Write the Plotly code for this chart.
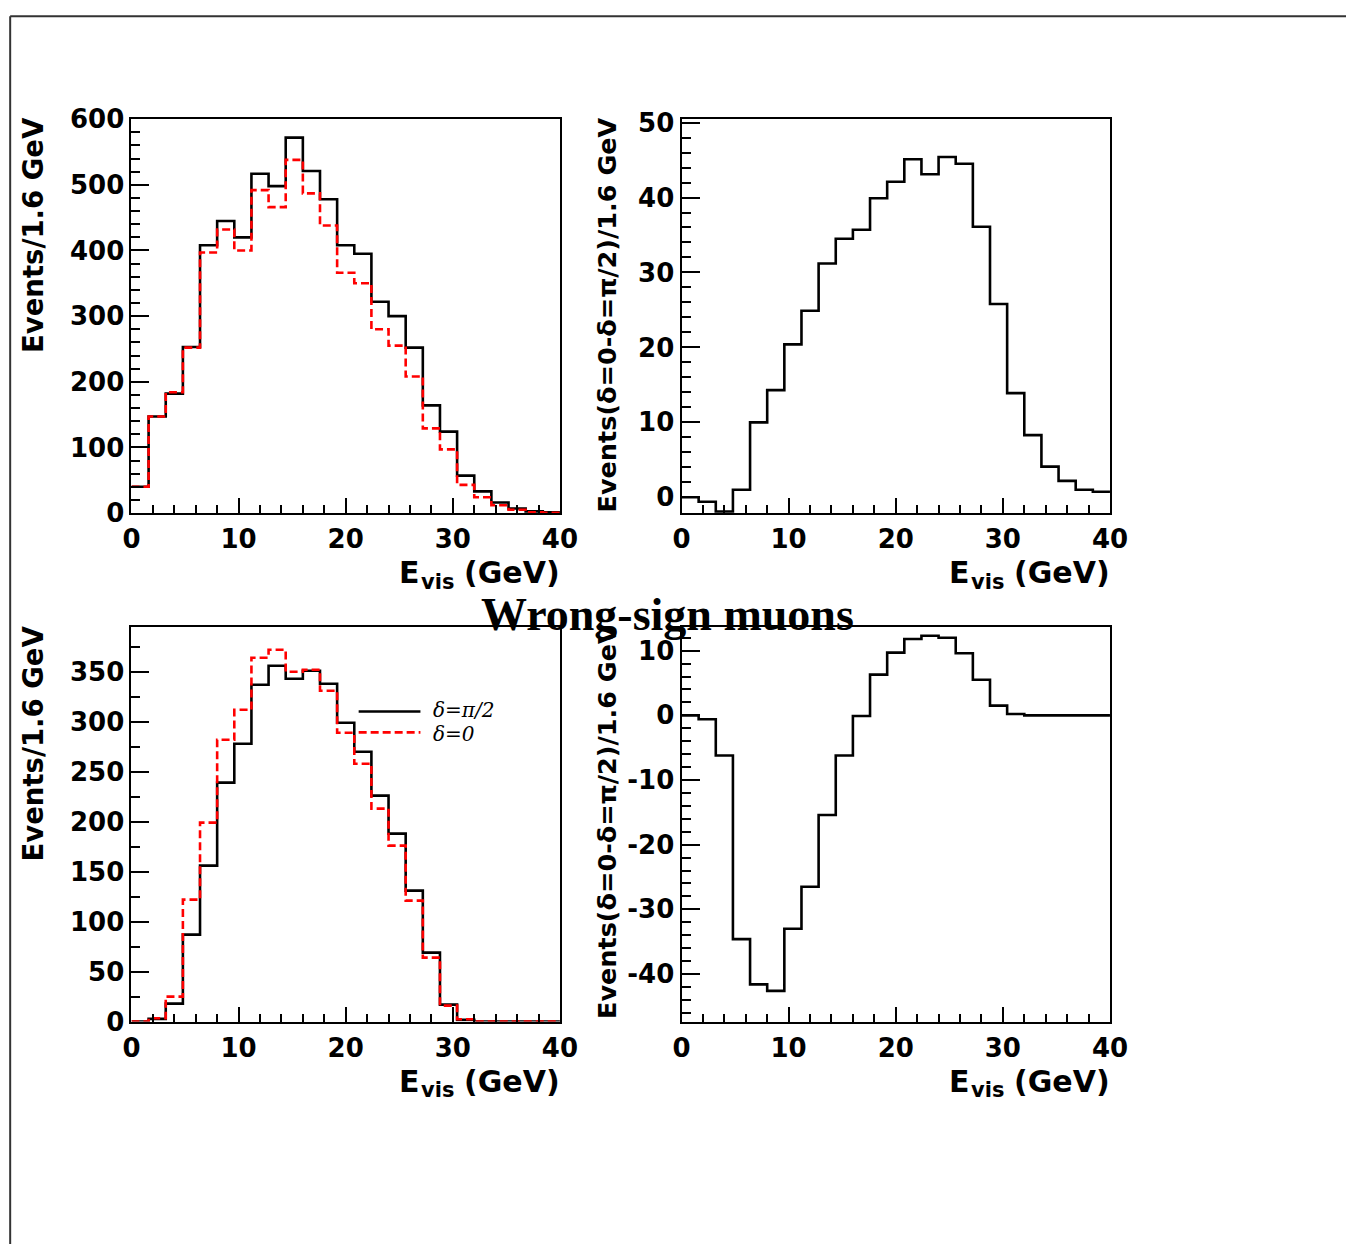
import numpy as np
import plotly.graph_objects as go

# ---------------- data ----------------
BIN_WIDTH = 1.6
N_BINS = 25
x_edges = [round(i * BIN_WIDTH, 3) for i in range(N_BINS + 1)]

# top-left: right-sign (events / 1.6 GeV)
tl_delta_pi2 = [40, 147, 182, 253, 408, 445, 420, 517, 498, 572, 521, 478, 408,
                395, 322, 300, 252, 164, 124, 57, 33, 16, 7, 2.5, 1]
tl_delta_0 = [40, 147, 184, 252, 397, 432, 400, 492, 466, 538, 487, 438, 366,
              350, 280, 255, 208, 129, 97, 43, 24, 12, 5, 1, 0.5]

# top-right: difference
tr_diff = [0.0, -0.6, -1.9, 1.0, 10.0, 14.3, 20.4, 24.9, 31.2, 34.5, 35.7, 39.9,
           42.1, 45.1, 43.1, 45.4, 44.5, 36.1, 25.8, 13.9, 8.3, 4.1, 2.2, 1.0, 0.75]

# bottom-left: wrong-sign muons
bl_delta_pi2 = [0, 2.7, 18, 87, 156, 239, 278, 337, 356, 343, 351, 338, 299,
                270, 226, 188, 131, 69, 17, 1.7, 0, 0, 0, 0, 0]
bl_delta_0 = [0, 3.3, 25, 122, 199, 282, 312, 364, 372, 350, 352, 331, 289,
              258, 213, 176, 121, 64, 16, 2.3, 0, 0, 0, 0, 0]

# bottom-right: difference
br_diff = [0.0, -0.6, -6.2, -34.6, -41.6, -42.6, -33.0, -26.5, -15.4, -6.2, -0.1,
           6.3, 9.7, 11.8, 12.3, 12.0, 9.6, 5.5, 1.5, 0.2, 0, 0, 0, 0, 0]
br_tick_vals = [-40, -30, -20, -10, 0, 10]
br_tick_text = ["-40", "-30", "-20", "-10", "0", "10"]
tr_tick_vals = [0, 10, 20, 30, 40, 50]
tr_tick_text = ["0", "10", "20", "30", "40", "50"]

legend_names = ["δ=π/2", "δ=0"]
x_title_parts = ["E", "vis", "(GeV)"]
y_title_events = "Events/1.6 GeV"
y_title_diff = "Events(δ=0-δ=π/2)/1.6 GeV"
main_title = "Wrong-sign muons"

# ---------------- layout helpers ----------------
W, H = 1364, 1259
# calibration of the photographed page (target pixel -> figure pixel)
SX, OX = 0.9837, 7.1
SY, OY = 0.979, 12.5


def px(x):
    return ((x - OX) / SX) / W


def py(y):
    return 1 - ((y - OY) / SY) / H


TICK_FONT = dict(family="DejaVu Sans", size=26, color="black", weight="bold")
XTITLE_FONT = dict(family="DejaVu Sans", size=30, color="black", weight="bold")
XSUB_FONT = dict(family="DejaVu Sans", size=21, color="black", weight="bold")

# panel frames in target pixels: (left, right, top, bottom)
panels = {
    "tl": (130, 560, 117, 512),
    "tr": (682, 1112, 117, 512),
    "bl": (130, 560, 626, 1022),
    "br": (682, 1112, 626, 1022),
}
ytitle_pos = {"tl": (31, 113, 27.5), "tr": (607, 113, 25.5),
              "bl": (31, 623, 27.5), "br": (607, 621, 25.5)}


def step(vals):
    return list(vals) + [vals[-1]]


def xaxis_cfg(p, anchor):
    l, r, t, b = panels[p]
    return dict(domain=[px(l), px(r)], anchor=anchor, range=[0, 40],
                tick0=0, dtick=10, ticks="inside", ticklen=15, tickwidth=2,
                tickcolor="black",
                minor=dict(ticks="inside", ticklen=8, dtick=2, tick0=0,
                           tickwidth=2, tickcolor="black"),
                showline=True, linewidth=2, linecolor="black", mirror=True,
                showgrid=False, zeroline=False, tickfont=TICK_FONT,
                ticklabelstandoff=2)


def yaxis_cfg(p, anchor, rng, dtick, mdtick, tv=None, tt=None):
    l, r, t, b = panels[p]
    d = dict(domain=[py(b), py(t)], anchor=anchor, range=rng,
             tick0=0, dtick=dtick, ticks="inside", ticklen=18, tickwidth=2,
             tickcolor="black",
             minor=dict(ticks="inside", ticklen=9, dtick=mdtick, tick0=0,
                        tickwidth=2, tickcolor="black"),
             showline=True, linewidth=2, linecolor="black", mirror=True,
             showgrid=False, zeroline=False, tickfont=TICK_FONT,
             ticklabelstandoff=0)
    if tv is not None:
        d.update(tickmode="array", tickvals=tv, ticktext=tt)
    return d


fig = go.Figure()

BLACK = dict(color="black", width=2.6, shape="hv")
RED = dict(color="#ff0000", width=2.6, shape="hv", dash="8px,4px")

# top-left
fig.add_trace(go.Scatter(x=x_edges, y=step(tl_delta_pi2), mode="lines", line=BLACK,
                         xaxis="x", yaxis="y", name=legend_names[0]))
fig.add_trace(go.Scatter(x=x_edges, y=step(tl_delta_0), mode="lines", line=RED,
                         xaxis="x", yaxis="y", name=legend_names[1]))
# top-right
fig.add_trace(go.Scatter(x=x_edges, y=step(tr_diff), mode="lines", line=BLACK,
                         xaxis="x2", yaxis="y2", name="difference"))
# bottom-left
fig.add_trace(go.Scatter(x=x_edges, y=step(bl_delta_pi2), mode="lines", line=BLACK,
                         xaxis="x3", yaxis="y3", name=legend_names[0]))
fig.add_trace(go.Scatter(x=x_edges, y=step(bl_delta_0), mode="lines", line=RED,
                         xaxis="x3", yaxis="y3", name=legend_names[1]))
# bottom-right
fig.add_trace(go.Scatter(x=x_edges, y=step(br_diff), mode="lines", line=BLACK,
                         xaxis="x4", yaxis="y4", name="difference"))

annotations = []
for p in ["tl", "tr", "bl", "br"]:
    l, r, t, b = panels[p]
    # x-axis title "E_vis (GeV)" built from three pieces (E, subscript vis, (GeV))
    annotations.append(dict(text=x_title_parts[2], x=px(r + 2), y=py(b + 60),
                            xref="paper", yref="paper", xanchor="right",
                            yanchor="middle", showarrow=False, font=XTITLE_FONT))
    annotations.append(dict(text=x_title_parts[1], x=px(r - 123), y=py(b + 69),
                            xref="paper", yref="paper", xanchor="center",
                            yanchor="middle", showarrow=False, font=XSUB_FONT))
    annotations.append(dict(text=x_title_parts[0], x=px(r - 151), y=py(b + 60),
                            xref="paper", yref="paper", xanchor="center",
                            yanchor="middle", showarrow=False, font=XTITLE_FONT))
    ytxt = y_title_events if p in ("tl", "bl") else y_title_diff
    cx, top, fs = ytitle_pos[p]
    annotations.append(dict(text=ytxt, x=px(cx), y=py(top), xref="paper",
                            yref="paper", xanchor="center", yanchor="top",
                            textangle=-90, showarrow=False,
                            font=dict(family="DejaVu Sans", size=fs,
                                      color="black", weight="bold")))

annotations.append(dict(text=main_title, x=px(668), y=py(614), xref="paper",
                        yref="paper", xanchor="center", yanchor="middle",
                        showarrow=False,
                        font=dict(family="Liberation Serif", size=46,
                                  color="black", weight="bold")))

# legend (ROOT TLegend style) in the bottom-left pad
LEG_FONT = dict(family="DejaVu Serif", size=20, color="black", style="italic")
leg_rows = [(711, 710, "black", "solid", legend_names[0]),
            (732, 733.5, "#ff0000", "8px,4px", legend_names[1])]
shapes = []
for yl, yt, col, dash, name in leg_rows:
    shapes.append(dict(type="line", xref="paper", yref="paper", x0=px(358), x1=px(420),
                       y0=py(yl), y1=py(yl), line=dict(color=col, width=2.6, dash=dash)))
    annotations.append(dict(text=name, x=px(431), y=py(yt), xref="paper", yref="paper",
                            xanchor="left", yanchor="middle", showarrow=False,
                            font=LEG_FONT))

# outer canvas border (top and left)
shapes += [
    dict(type="line", xref="paper", yref="paper", x0=1.2 / W, x1=1.2 / W,
         y0=0, y1=1 - 1.2 / H, line=dict(color="#333333", width=2)),
    dict(type="line", xref="paper", yref="paper", x0=1.2 / W, x1=1,
         y0=1 - 1.2 / H, y1=1 - 1.2 / H, line=dict(color="#333333", width=2)),
]

fig.update_layout(
    width=W, height=H, autosize=False,
    margin=dict(l=0, r=0, t=0, b=0),
    paper_bgcolor="white", plot_bgcolor="white",
    xaxis=xaxis_cfg("tl", "y"),
    yaxis=yaxis_cfg("tl", "x", [0, 600], 100, 20),
    xaxis2=xaxis_cfg("tr", "y2"),
    yaxis2=yaxis_cfg("tr", "x2", [-2.1, 50.45], 10, 2, tr_tick_vals, tr_tick_text),
    xaxis3=xaxis_cfg("bl", "y3"),
    yaxis3=yaxis_cfg("bl", "x3", [0, 395], 50, 25),
    xaxis4=xaxis_cfg("br", "y4"),
    yaxis4=yaxis_cfg("br", "x4", [-47.35, 13.7], 10, 2, br_tick_vals, br_tick_text),
    annotations=annotations,
    shapes=shapes,
    showlegend=False,
)

post = (
    "document.documentElement.style.margin='0';"
    "document.body.style.margin='0';"
    "document.body.style.overflow='hidden';"
)
fig.write_html("out.html", config={"displayModeBar": False}, post_script=post)
